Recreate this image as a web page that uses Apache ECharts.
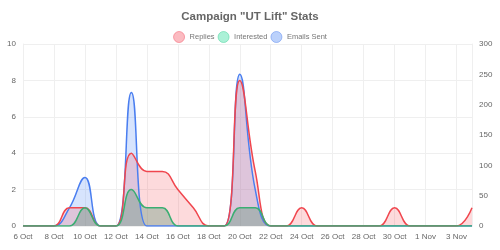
<!DOCTYPE html>
<html>
<head>
<meta charset="utf-8">
<script src="https://cdn.jsdelivr.net/npm/echarts@6/dist/echarts.min.js"></script>
<style>
  html, body { margin: 0; padding: 0; background: #fff; }
  #chart { width: 500px; height: 250px; }
</style>
</head>
<body>
<div id="chart"></div>
<script>
// daily dates, 6 Oct -> 4 Nov
const dates = ['6 Oct', '7 Oct', '8 Oct', '9 Oct', '10 Oct', '11 Oct', '12 Oct', '13 Oct', '14 Oct', '15 Oct',
  '16 Oct', '17 Oct', '18 Oct', '19 Oct', '20 Oct', '21 Oct', '22 Oct', '23 Oct', '24 Oct', '25 Oct',
  '26 Oct', '27 Oct', '28 Oct', '29 Oct', '30 Oct', '31 Oct', '1 Nov', '2 Nov', '3 Nov', '4 Nov'];
const replies = [0, 0, 0, 1, 1, 0, 0, 4, 3, 3, 2, 1, 0, 0, 8, 3, 0, 0, 1, 0, 0, 0, 0, 0, 1, 0, 0, 0, 0, 1];
const interested = [0, 0, 0, 0, 1, 0, 0, 2, 1, 1, 0, 0, 0, 0, 1, 1, 0, 0, 0, 0, 0, 0, 0, 0, 0, 0, 0, 0, 0, 0];
const emailsSent = [0, 0, 0, 30, 80, 0, 0, 220, 0, 0, 0, 0, 0, 0, 250, 60, 0, 0, 0, 0, 0, 0, 0, 0, 0, 0, 0, 0, 0, 0];

const chart = echarts.init(document.getElementById('chart'));

const gridColor = '#efefef';
const textColor = '#666';

chart.setOption({
  animation: false,
  textStyle: { fontFamily: 'Liberation Sans, Arial, sans-serif' },
  title: {
    text: 'Campaign "UT Lift" Stats',
    left: 'center',
    top: 6,
    textStyle: { fontSize: 11.5, fontWeight: 'bold', color: '#666' }
  },
  legend: {
    top: 26,
    left: 'center',
    icon: 'circle',
    itemWidth: 11,
    itemHeight: 11,
    itemGap: 3,
    textStyle: { fontSize: 7.5, color: '#777' },
    data: [
      { name: 'Replies', itemStyle: { color: 'rgba(250,170,178,0.8)', borderColor: 'rgba(245,110,125,0.6)', borderWidth: 1 } },
      { name: 'Interested', itemStyle: { color: 'rgba(150,238,205,0.8)', borderColor: 'rgba(90,215,165,0.6)', borderWidth: 1 } },
      { name: 'Emails Sent', itemStyle: { color: 'rgba(170,198,250,0.8)', borderColor: 'rgba(110,150,240,0.6)', borderWidth: 1 } }
    ]
  },
  grid: { left: 23, right: 28, top: 44, bottom: 24 },
  xAxis: {
    type: 'category',
    data: dates,
    boundaryGap: false,
    axisLine: { show: true, lineStyle: { color: gridColor } },
    axisTick: { show: false },
    axisLabel: { interval: 1, fontSize: 8, color: textColor, margin: 7 },
    splitLine: { show: true, interval: 1, lineStyle: { color: gridColor } }
  },
  yAxis: [
    {
      type: 'value',
      min: 0,
      max: 10,
      interval: 2,
      axisLine: { show: true, lineStyle: { color: gridColor } },
      axisTick: { show: false },
      axisLabel: { fontSize: 8, color: textColor, margin: 7 },
      splitLine: { show: true, lineStyle: { color: gridColor } }
    },
    {
      type: 'value',
      min: 0,
      max: 300,
      interval: 50,
      position: 'right',
      axisLine: { show: true, lineStyle: { color: gridColor } },
      axisTick: { show: false },
      axisLabel: { fontSize: 8, color: textColor, margin: 7 },
      splitLine: { show: false }
    }
  ],
  series: [
    {
      name: 'Emails Sent',
      type: 'line',
      yAxisIndex: 1,
      data: emailsSent,
      smooth: 0.45,
      symbol: 'none',
      lineStyle: { color: '#4a7ef0', width: 1.5 },
      itemStyle: { color: '#4a7ef0' },
      areaStyle: { color: 'rgba(90,145,245,0.35)' }
    },
    {
      name: 'Replies',
      type: 'line',
      yAxisIndex: 0,
      data: replies,
      smooth: 0.45,
      symbol: 'none',
      lineStyle: { color: '#f0464e', width: 1.5 },
      itemStyle: { color: '#f0464e' },
      areaStyle: { color: 'rgba(245,95,105,0.33)' }
    },
    {
      name: 'Interested',
      type: 'line',
      yAxisIndex: 0,
      data: interested,
      smooth: 0.45,
      symbol: 'none',
      lineStyle: { color: '#3aae72', width: 1.5 },
      itemStyle: { color: '#3aae72' },
      areaStyle: { color: 'rgba(70,140,105,0.45)' }
    }
  ]
});
</script>
</body>
</html>
